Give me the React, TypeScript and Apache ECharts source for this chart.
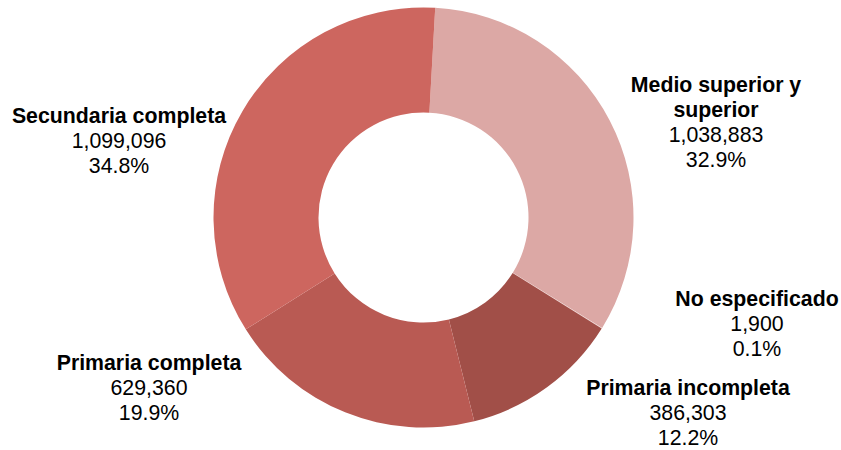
import React, { useEffect, useRef } from "react";
import * as echarts from "echarts";

const categories = [
  "Medio superior y superior",
  "No especificado",
  "Primaria incompleta",
  "Primaria completa",
  "Secundaria completa",
];
const values = [1038883, 1900, 386303, 629360, 1099096];
const colors = ["#DCA8A5", "#EFCFCC", "#A14F48", "#B95A53", "#CD665F"];
// label block centres (layout only)
const labelPos = [
  [716, 122],
  [757, 324],
  [688, 412.5],
  [149, 388],
  [119, 141],
];

const total = values.reduce((a, b) => a + b, 0);
const FONT = "Liberation Sans, Arial, sans-serif";

export default function App() {
  const ref = useRef<HTMLDivElement>(null);
  useEffect(() => {
    if (!ref.current) return;
    document.body.style.margin = "0";
    const chart = echarts.init(ref.current, null, { renderer: "svg" });
    chart.setOption({
      animation: false,
      series: [
        {
          type: "pie",
          center: [423.5, 217.5],
          radius: [105, 210],
          startAngle: 86.8,
          clockwise: true,
          avoidLabelOverlap: false,
          silent: true,
          itemStyle: { borderWidth: 0 },
          data: categories.map((c, i) => ({
            name: c,
            value: values[i],
            itemStyle: { color: colors[i] },
          })),
          label: {
            show: true,
            position: "outside",
            fontFamily: FONT,
            color: "#000",
            align: "center",
            verticalAlign: "middle",
            formatter: (p: any) => {
              const name = String(p.name).replace("y superior", "y\nsuperior");
              const nameLines = name
                .split("\n")
                .map((l: string) => `{b|${l}}`)
                .join("\n");
              const v = Number(p.value).toLocaleString("en-US");
              const pct = ((Number(p.value) / total) * 100).toFixed(1) + "%";
              return `${nameLines}\n{v|${v}}\n{v|${pct}}`;
            },
            rich: {
              b: {
                fontFamily: FONT,
                fontWeight: "bold",
                fontSize: 21.3,
                lineHeight: 25,
                color: "#000",
                align: "center",
              },
              v: {
                fontFamily: FONT,
                fontSize: 21.3,
                lineHeight: 25,
                color: "#000",
                align: "center",
              },
            },
          },
          labelLine: { show: false },
          labelLayout: (params: any) => {
            const pos = labelPos[params.dataIndex];
            return {
              x: pos[0],
              y: pos[1],
              align: "center",
              verticalAlign: "middle",
            };
          },
          emphasis: { disabled: true },
        },
      ],
    });
    return () => chart.dispose();
  }, []);
  return <div ref={ref} style={{ width: 841, height: 450 }} />;
}
